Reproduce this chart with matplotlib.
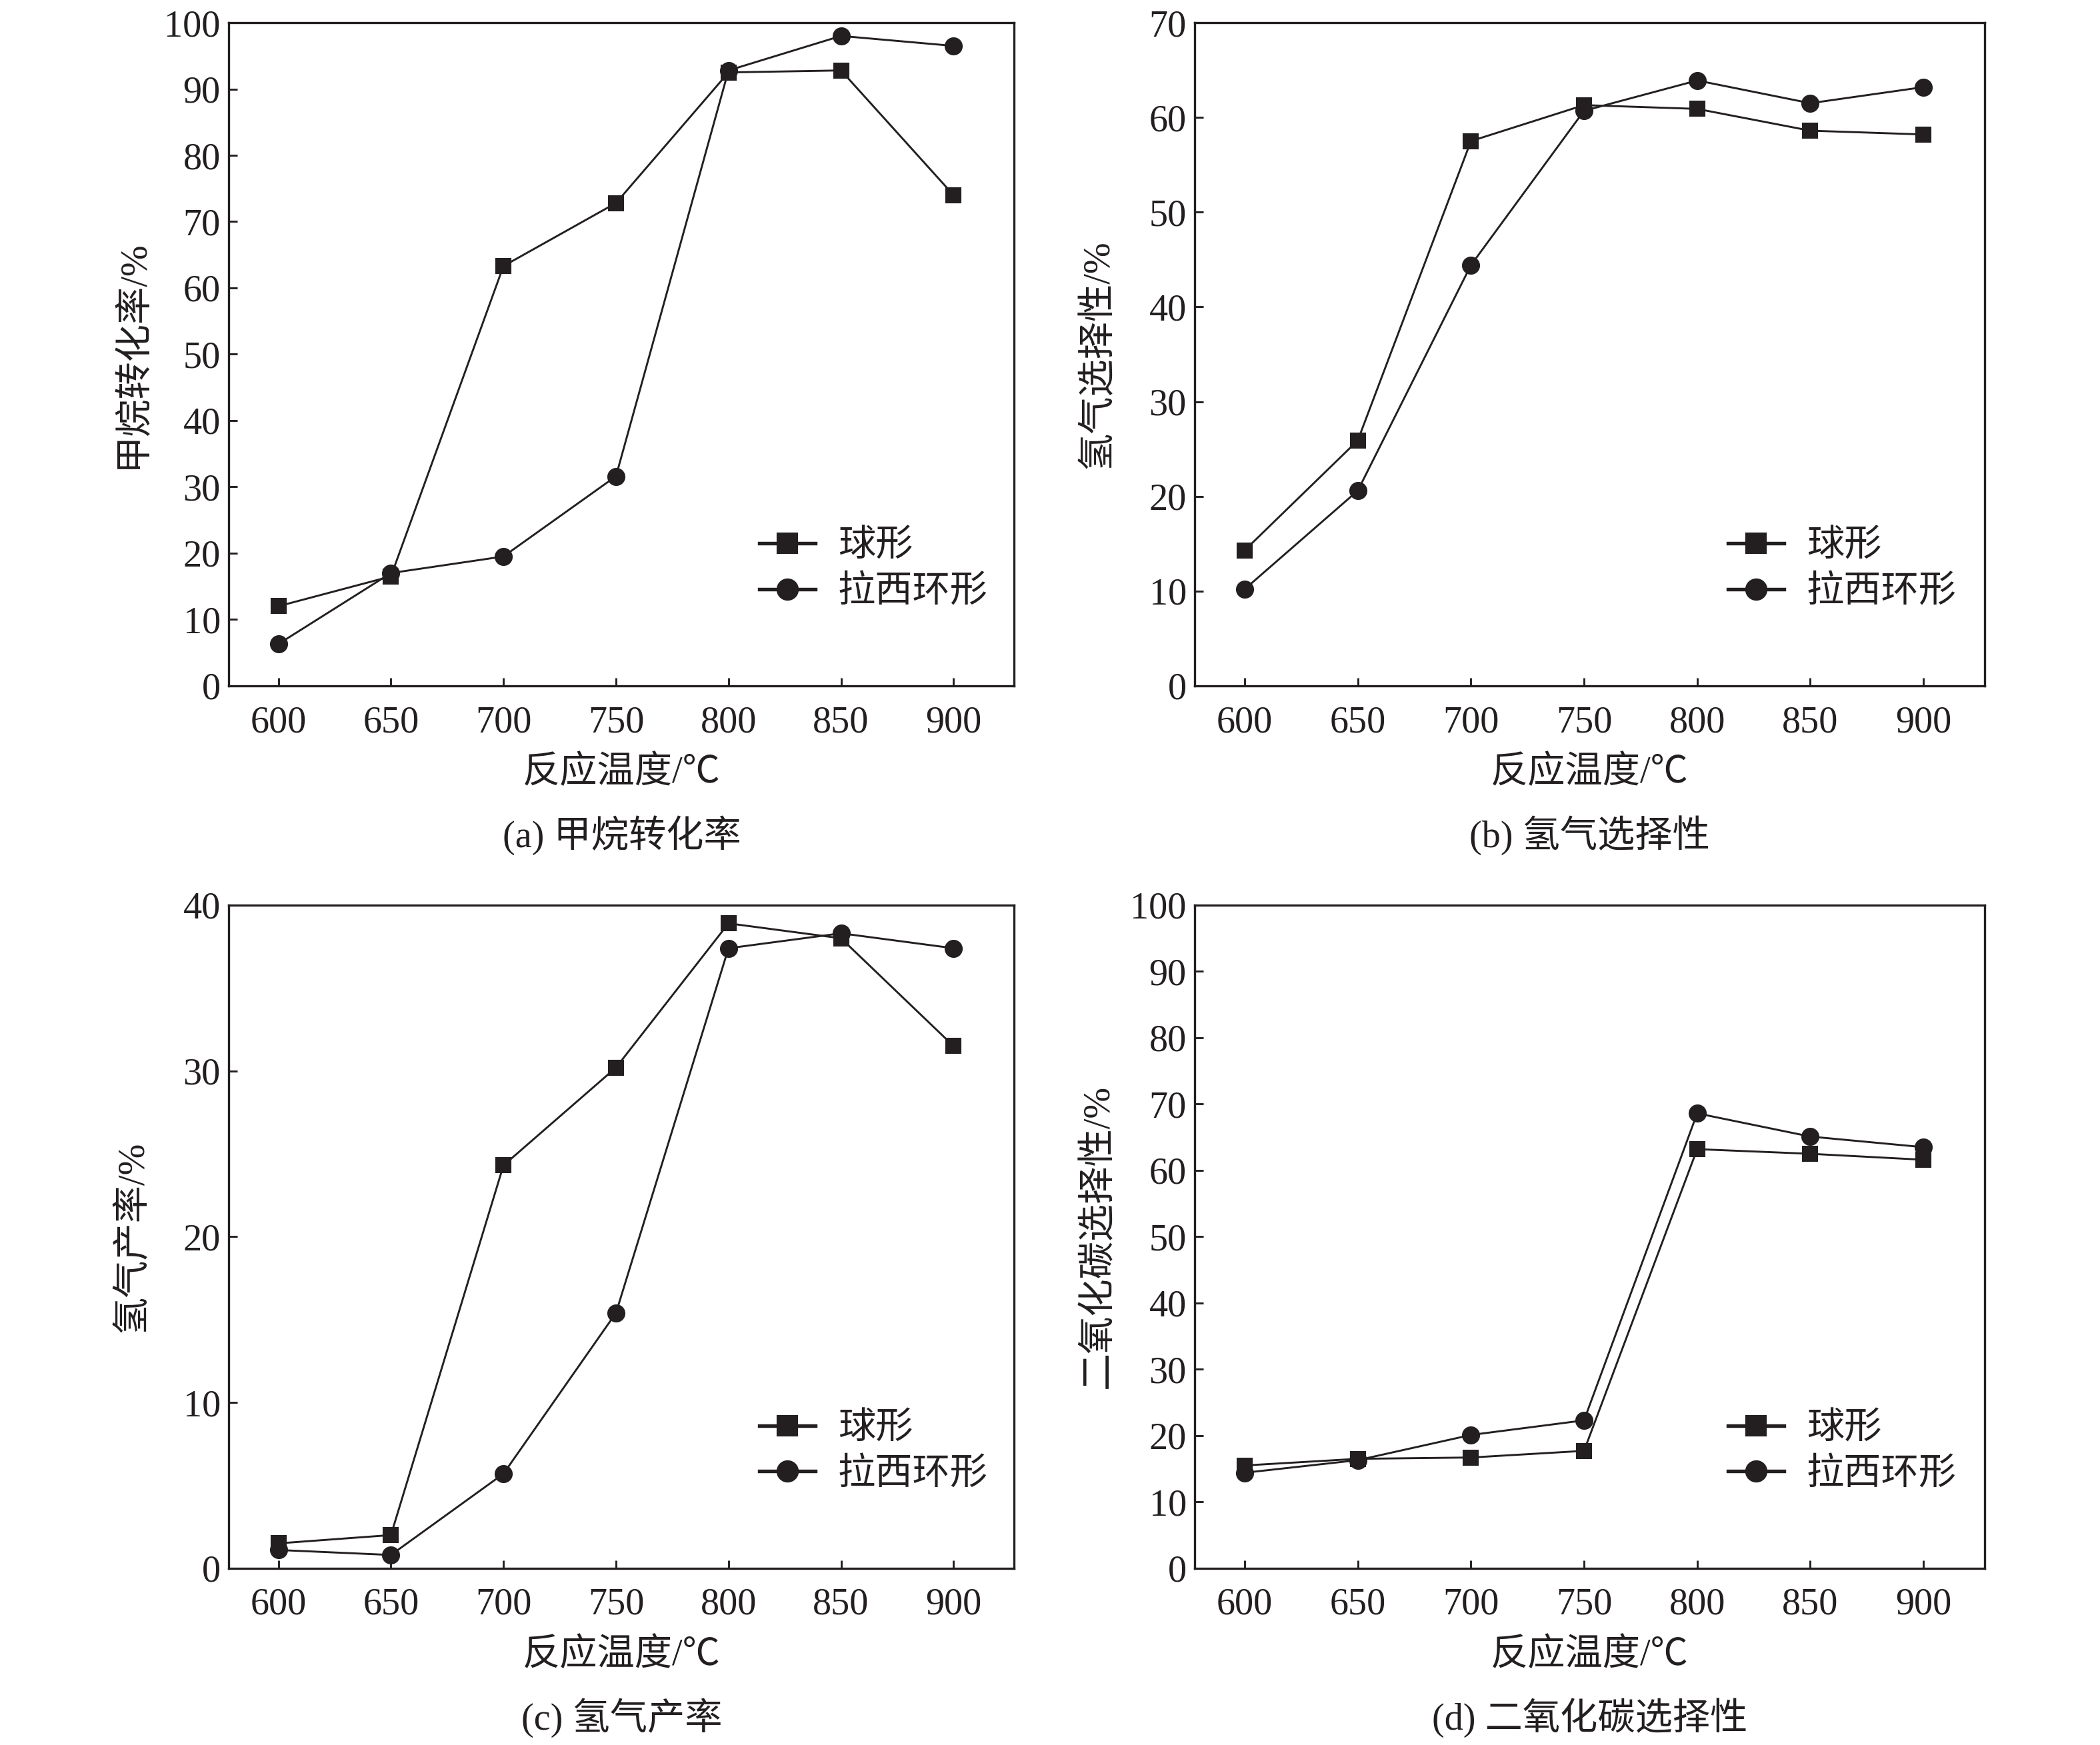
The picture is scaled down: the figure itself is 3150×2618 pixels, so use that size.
import matplotlib
matplotlib.use('Agg')
import matplotlib.pyplot as plt
from matplotlib.lines import Line2D

plt.rcParams['font.family'] = ['Liberation Serif', 'Noto Sans CJK SC', 'DejaVu Sans']
plt.rcParams['font.size'] = 13.5
plt.rcParams['axes.unicode_minus'] = False

# Data
temps = [600, 650, 700, 750, 800, 850, 900]

ch4_sphere = [12.0, 16.5, 63.3, 72.8, 92.5, 92.8, 74.0]
ch4_raschig = [6.3, 17.0, 19.5, 31.6, 92.8, 98.0, 96.5]

h2sel_sphere = [14.3, 25.9, 57.5, 61.3, 60.9, 58.6, 58.2]
h2sel_raschig = [10.2, 20.6, 44.4, 60.7, 63.9, 61.5, 63.2]

h2yield_sphere = [1.5, 2.0, 24.3, 30.2, 38.9, 38.0, 31.5]
h2yield_raschig = [1.1, 0.8, 5.7, 15.4, 37.4, 38.3, 37.4]

co2sel_sphere = [15.5, 16.5, 16.7, 17.7, 63.2, 62.5, 61.6]
co2sel_raschig = [14.4, 16.3, 20.1, 22.3, 68.6, 65.1, 63.5]

series_names = ['球形', '拉西环形']
ylabels = ['甲烷转化率/%', '氢气选择性/%', '氢气产率/%', '二氧化碳选择性/%']
captions = ['(a) 甲烷转化率', '(b) 氢气选择性', '(c) 氢气产率', '(d) 二氧化碳选择性']
ylims = [100, 70, 40, 100]
xlabel = '反应温度/℃'

panels = [
    (ch4_sphere, ch4_raschig),
    (h2sel_sphere, h2sel_raschig),
    (h2yield_sphere, h2yield_raschig),
    (co2sel_sphere, co2sel_raschig),
]

ink = '#231f20'

fig = plt.figure(figsize=(10.5, 2618 / 300))
boxes = [
    [0.109, 0.607, 0.374, 0.380],
    [0.569, 0.607, 0.376, 0.380],
    [0.109, 0.1013, 0.374, 0.380],
    [0.569, 0.1013, 0.376, 0.380],
]

for i, (sphere, raschig) in enumerate(panels):
    ax = fig.add_axes(boxes[i])
    ax.plot(temps, sphere, marker='s', color=ink, lw=0.7, ms=5.5, mew=0.5)
    ax.plot(temps, raschig, marker='o', color=ink, lw=0.7, ms=6, mew=0.5)

    ax.set_xlim(578, 927)
    ax.set_ylim(0, ylims[i])
    ax.set_xticks(temps)
    ax.set_yticks(range(0, ylims[i] + 1, 10))
    ax.tick_params(direction='in', length=3, width=0.7, colors=ink,
                   top=False, right=False)
    ax.tick_params(axis='x', pad=7)
    ax.tick_params(axis='y', pad=3)
    for sp in ax.spines.values():
        sp.set_linewidth(0.8)
        sp.set_color(ink)

    ax.set_ylabel(ylabels[i], color=ink)
    ax.yaxis.set_label_coords(-0.10, 0.5)
    ax.set_xlabel(xlabel, color=ink)
    ax.xaxis.set_label_coords(0.5, -0.105)
    ax.text(0.5, -0.195, captions[i], transform=ax.transAxes,
            ha='center', va='top', color=ink)

    handles = [
        Line2D([], [], color=ink, lw=1.3, marker='s', ms=6.5),
        Line2D([], [], color=ink, lw=1.3, marker='o', ms=7),
    ]
    ax.legend(handles, series_names, loc='center left', frameon=False,
              bbox_to_anchor=(0.675, 0.175), borderaxespad=0, borderpad=0,
              handlelength=1.5, handletextpad=0.6, labelspacing=0.3,
              labelcolor=ink)

fig.savefig('out.png', dpi=300)
